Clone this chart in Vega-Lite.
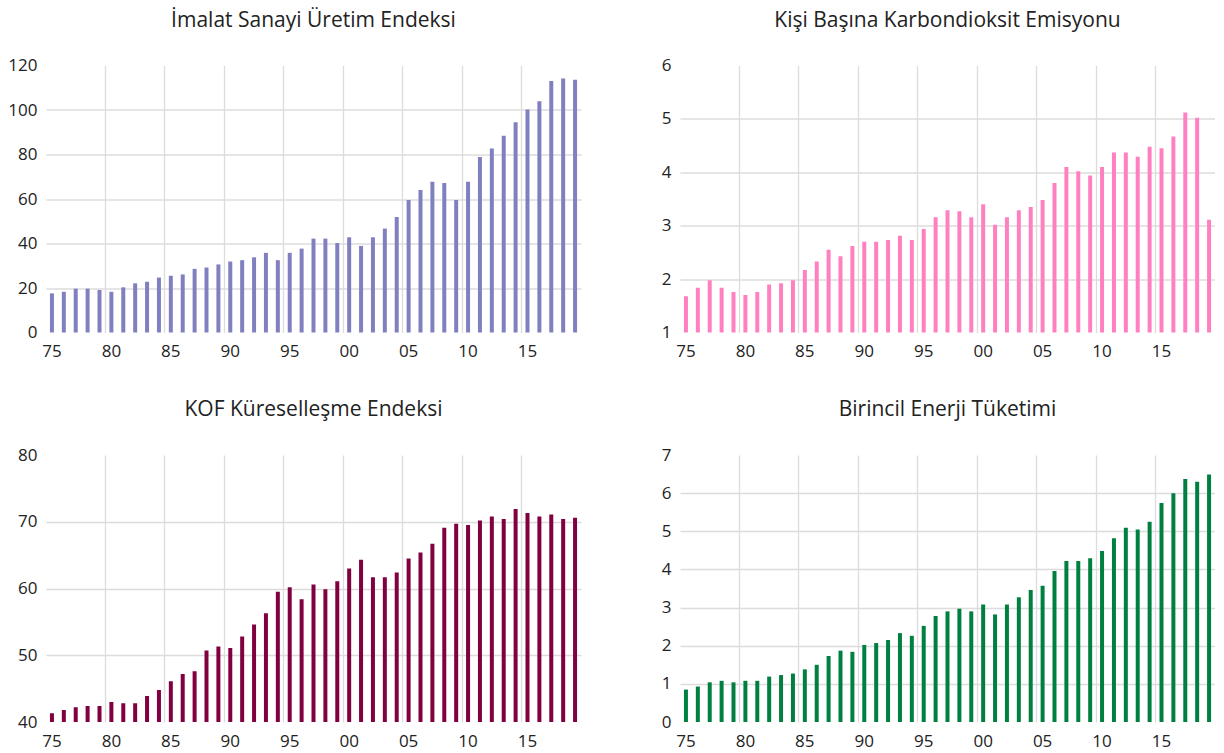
{
  "$schema": "https://vega.github.io/schema/vega-lite/v6.json",
  "padding": {"left": 6, "top": 9.5, "right": 0, "bottom": 0},
  "background": "white",
  "config": {
    "font": "Open Sans",
    "view": {"stroke": null},
    "title": {"font": "Open Sans", "fontSize": 21, "fontWeight": "normal", "color": "#222222", "anchor": "middle", "baseline": "alphabetic", "offset": 26},
    "axis": {"labelFont": "Open Sans", "labelFontSize": 17, "labelColor": "#222222", "ticks": false, "domain": false, "gridColor": "#dcdcdc", "gridWidth": 1.3, "title": null},
    "axisX": {"labelAngle": 0, "labelPadding": 11, "bandPosition": 0, "minExtent": 36, "maxExtent": 36, "grid": true},
    "axisY": {"labelPadding": 9, "minExtent": 40, "maxExtent": 40},
    "bar": {"size": 4}
  },
  "data": {"values": [
    {"year": 1975, "imalat": 17.6, "co2": 1.68, "kof": 41.3, "enerji": 0.85},
    {"year": 1976, "imalat": 18.3, "co2": 1.84, "kof": 41.8, "enerji": 0.93},
    {"year": 1977, "imalat": 19.7, "co2": 1.98, "kof": 42.2, "enerji": 1.04},
    {"year": 1978, "imalat": 19.7, "co2": 1.84, "kof": 42.4, "enerji": 1.08},
    {"year": 1979, "imalat": 19.1, "co2": 1.76, "kof": 42.4, "enerji": 1.04},
    {"year": 1980, "imalat": 18.3, "co2": 1.70, "kof": 43.0, "enerji": 1.08},
    {"year": 1981, "imalat": 20.3, "co2": 1.76, "kof": 42.8, "enerji": 1.08},
    {"year": 1982, "imalat": 22.1, "co2": 1.90, "kof": 42.8, "enerji": 1.19},
    {"year": 1983, "imalat": 22.8, "co2": 1.92, "kof": 43.9, "enerji": 1.23},
    {"year": 1984, "imalat": 24.7, "co2": 1.98, "kof": 44.8, "enerji": 1.27},
    {"year": 1985, "imalat": 25.5, "co2": 2.17, "kof": 46.1, "enerji": 1.38},
    {"year": 1986, "imalat": 26.1, "co2": 2.33, "kof": 47.2, "enerji": 1.50},
    {"year": 1987, "imalat": 28.6, "co2": 2.55, "kof": 47.6, "enerji": 1.73},
    {"year": 1988, "imalat": 29.2, "co2": 2.43, "kof": 50.7, "enerji": 1.87},
    {"year": 1989, "imalat": 30.6, "co2": 2.62, "kof": 51.3, "enerji": 1.84},
    {"year": 1990, "imalat": 31.9, "co2": 2.70, "kof": 51.1, "enerji": 2.02},
    {"year": 1991, "imalat": 32.5, "co2": 2.70, "kof": 52.8, "enerji": 2.07},
    {"year": 1992, "imalat": 33.8, "co2": 2.73, "kof": 54.6, "enerji": 2.15},
    {"year": 1993, "imalat": 35.8, "co2": 2.81, "kof": 56.3, "enerji": 2.33},
    {"year": 1994, "imalat": 32.5, "co2": 2.73, "kof": 59.5, "enerji": 2.26},
    {"year": 1995, "imalat": 35.8, "co2": 2.94, "kof": 60.2, "enerji": 2.52},
    {"year": 1996, "imalat": 37.7, "co2": 3.16, "kof": 58.4, "enerji": 2.78},
    {"year": 1997, "imalat": 42.2, "co2": 3.29, "kof": 60.6, "enerji": 2.90},
    {"year": 1998, "imalat": 42.2, "co2": 3.27, "kof": 59.9, "enerji": 2.97},
    {"year": 1999, "imalat": 40.2, "co2": 3.16, "kof": 61.1, "enerji": 2.90},
    {"year": 2000, "imalat": 42.8, "co2": 3.40, "kof": 63.0, "enerji": 3.08},
    {"year": 2001, "imalat": 38.9, "co2": 3.02, "kof": 64.3, "enerji": 2.82},
    {"year": 2002, "imalat": 42.8, "co2": 3.16, "kof": 61.7, "enerji": 3.08},
    {"year": 2003, "imalat": 46.7, "co2": 3.29, "kof": 61.7, "enerji": 3.27},
    {"year": 2004, "imalat": 51.9, "co2": 3.35, "kof": 62.4, "enerji": 3.46},
    {"year": 2005, "imalat": 59.5, "co2": 3.48, "kof": 64.5, "enerji": 3.57},
    {"year": 2006, "imalat": 64.0, "co2": 3.80, "kof": 65.4, "enerji": 3.96},
    {"year": 2007, "imalat": 67.8, "co2": 4.10, "kof": 66.7, "enerji": 4.22},
    {"year": 2008, "imalat": 67.2, "co2": 4.02, "kof": 69.1, "enerji": 4.22},
    {"year": 2009, "imalat": 59.5, "co2": 3.94, "kof": 69.7, "enerji": 4.29},
    {"year": 2010, "imalat": 67.8, "co2": 4.10, "kof": 69.5, "enerji": 4.48},
    {"year": 2011, "imalat": 78.9, "co2": 4.37, "kof": 70.2, "enerji": 4.82},
    {"year": 2012, "imalat": 82.7, "co2": 4.37, "kof": 70.8, "enerji": 5.09},
    {"year": 2013, "imalat": 88.4, "co2": 4.29, "kof": 70.4, "enerji": 5.05},
    {"year": 2014, "imalat": 94.5, "co2": 4.48, "kof": 71.9, "enerji": 5.25},
    {"year": 2015, "imalat": 100.2, "co2": 4.45, "kof": 71.3, "enerji": 5.74},
    {"year": 2016, "imalat": 103.9, "co2": 4.67, "kof": 70.8, "enerji": 6.00},
    {"year": 2017, "imalat": 113.0, "co2": 5.12, "kof": 71.1, "enerji": 6.37},
    {"year": 2018, "imalat": 114.2, "co2": 5.02, "kof": 70.4, "enerji": 6.30},
    {"year": 2019, "imalat": 113.6, "co2": 3.11, "kof": 70.6, "enerji": 6.49}
  ]},
  "vconcat": [
    {
      "hconcat": [
        {
          "title": "İmalat Sanayi Üretim Endeksi",
          "width": 535, "height": 267,
          "mark": {"type": "bar", "color": "#8080C0"},
          "encoding": {
            "x": {"field": "year", "type": "ordinal", "scale": {"paddingInner": 0, "paddingOuter": 0},
                  "axis": {"values": [1975,1980,1985,1990,1995,2000,2005,2010,2015], "labelExpr": "slice(toString(datum.value), 2)",
                           "gridOpacity": {"condition": {"test": "datum.value == 1975", "value": 0}, "value": 1}}},
            "y": {"field": "imalat", "type": "quantitative", "scale": {"domain": [0, 120], "nice": false},
                  "axis": {"values": [0,20,40,60,80,100,120],
                           "gridOpacity": {"condition": {"test": "datum.value == 0 || datum.value == 120", "value": 0}, "value": 1}}}
          }
        },
        {
          "title": "Kişi Başına Karbondioksit Emisyonu",
          "width": 535, "height": 267,
          "mark": {"type": "bar", "color": "#FF80C0", "clip": true},
          "encoding": {
            "x": {"field": "year", "type": "ordinal", "scale": {"paddingInner": 0, "paddingOuter": 0},
                  "axis": {"values": [1975,1980,1985,1990,1995,2000,2005,2010,2015], "labelExpr": "slice(toString(datum.value), 2)",
                           "gridOpacity": {"condition": {"test": "datum.value == 1975", "value": 0}, "value": 1}}},
            "y": {"field": "co2", "type": "quantitative", "scale": {"domain": [1, 6], "nice": false, "zero": false},
                  "axis": {"values": [1,2,3,4,5,6],
                           "gridOpacity": {"condition": {"test": "datum.value == 1 || datum.value == 6", "value": 0}, "value": 1}}}
          }
        }
      ],
      "spacing": 59
    },
    {
      "hconcat": [
        {
          "title": "KOF Küreselleşme Endeksi",
          "width": 535, "height": 267,
          "mark": {"type": "bar", "color": "#800040", "clip": true},
          "encoding": {
            "x": {"field": "year", "type": "ordinal", "scale": {"paddingInner": 0, "paddingOuter": 0},
                  "axis": {"values": [1975,1980,1985,1990,1995,2000,2005,2010,2015], "labelExpr": "slice(toString(datum.value), 2)",
                           "gridOpacity": {"condition": {"test": "datum.value == 1975", "value": 0}, "value": 1}}},
            "y": {"field": "kof", "type": "quantitative", "scale": {"domain": [40, 80], "nice": false, "zero": false},
                  "axis": {"values": [40,50,60,70,80],
                           "gridOpacity": {"condition": {"test": "datum.value == 40 || datum.value == 80", "value": 0}, "value": 1}}}
          }
        },
        {
          "title": "Birincil Enerji Tüketimi",
          "width": 535, "height": 267,
          "mark": {"type": "bar", "color": "#008040"},
          "encoding": {
            "x": {"field": "year", "type": "ordinal", "scale": {"paddingInner": 0, "paddingOuter": 0},
                  "axis": {"values": [1975,1980,1985,1990,1995,2000,2005,2010,2015], "labelExpr": "slice(toString(datum.value), 2)",
                           "gridOpacity": {"condition": {"test": "datum.value == 1975", "value": 0}, "value": 1}}},
            "y": {"field": "enerji", "type": "quantitative", "scale": {"domain": [0, 7], "nice": false},
                  "axis": {"values": [0,1,2,3,4,5,6,7],
                           "gridOpacity": {"condition": {"test": "datum.value == 0 || datum.value == 7", "value": 0}, "value": 1}}}
          }
        }
      ],
      "spacing": 59
    }
  ],
  "spacing": 30.5
}
